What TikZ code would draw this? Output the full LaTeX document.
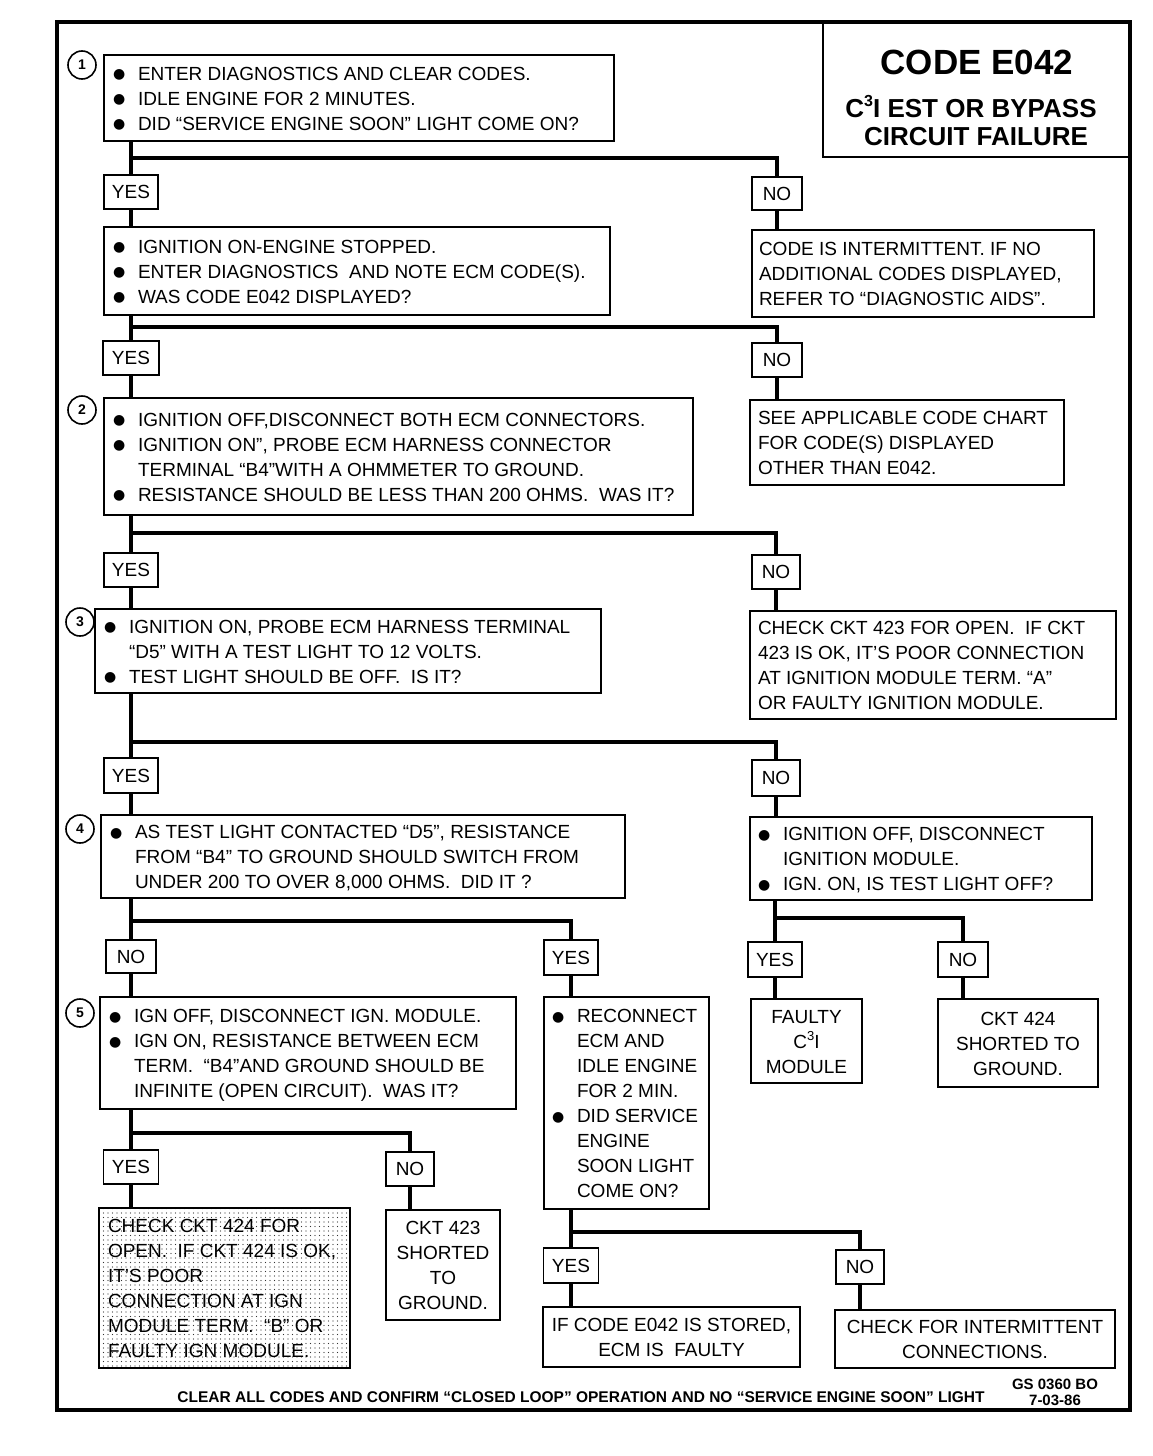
\documentclass[tikz,border=0pt]{standalone}
\usepackage{fontspec}
\setmainfont{Liberation Sans}
\newfontfamily\dejavu{DejaVu Sans}
\usetikzlibrary{patterns.meta}

\newcommand\bl{\makebox[25pt][l]{\raisebox{1.5pt}{\dejavu\fontsize{14}{14}\selectfont ●}}}
\newcommand\ind{\hspace*{25pt}}
\newcommand\cthree[1]{C\raisebox{0.42em}{\fontsize{#1}{#1}\selectfont 3}I}
% opts, name, x, y, W, H, xsep, content
\newcommand\bxnode[8]{\node[box,minimum width=#5pt,minimum height=#6pt,inner xsep=#7pt,#1] (#2) at (#3,#4) {\makebox[\dimexpr #5pt-#7pt-#7pt\relax][l]{\raisebox{-2pt}[\height][\depth]{\begin{tabular}{@{}l@{}}#8\end{tabular}}}};}
% opts, name, x, y, W, H, content
\newcommand\cxnode[7]{\node[box,minimum width=#5pt,minimum height=#6pt,inner xsep=2pt,#1] (#2) at (#3,#4) {\raisebox{-2pt}[\height][\depth]{\begin{tabular}{@{}c@{}}#7\end{tabular}}};}

\begin{document}
\begin{tikzpicture}[x=1pt,y=-1pt,
  every node/.style={font=\fontsize{19}{25}\selectfont},
  box/.style={draw,line width=1.8pt,inner ysep=0pt},
  lab/.style={draw,line width=1.8pt,inner sep=0pt,text height=13.6pt,text depth=0pt},
  conn/.style={line width=4.5pt},
  num/.style={circle,draw,line width=1.6pt,minimum size=28pt,inner sep=0pt,font=\fontsize{14}{14}\selectfont\bfseries},
  ttl/.style={font=\fontsize{#1}{#1}\selectfont\bfseries,inner sep=0pt,text depth=0pt},
  shade/.style={pattern={Dots[distance=4.5pt,radius=0.6pt]},pattern color=black!80}
]
\fill[white] (0,0) rectangle (1152,1456);
\useasboundingbox (0,0) rectangle (1152,1456);

% frame and title
\draw[line width=4.5pt] (57,22) rectangle (1130,1410);
\draw[line width=2.5pt] (823,22) rectangle (1130,157);
\node[ttl=35,text height=25pt] (t1) at (977,62) {CODE E042};
\node[ttl=26,text height=18.6pt] (t2) at (971,108) {\cthree{16} EST OR BYPASS};
\node[ttl=26,text height=18.6pt] (t3) at (976,136) {CIRCUIT FAILURE};

% step 1
\node[num] (n1) at (82,65) {1};
\bxnode{}{s1}{359}{98}{510}{86}{9}{\bl ENTER DIAGNOSTICS AND CLEAR CODES.\\
\bl IDLE ENGINE FOR 2 MINUTES.\\
\bl DID “SERVICE ENGINE SOON” LIGHT COME ON?}
\node[lab,minimum width=54pt,minimum height=34pt] (yes1) at (131,192) {YES};
\node[lab,minimum width=50pt,minimum height=33pt] (no1) at (777,193.5) {NO};
\bxnode{}{int1}{923}{273.5}{342}{87}{7}{CODE IS INTERMITTENT. IF NO\\
ADDITIONAL CODES DISPLAYED,\\
REFER TO “DIAGNOSTIC AIDS”.}

\bxnode{}{s2}{357}{271}{506}{88}{9}{\bl IGNITION ON-ENGINE STOPPED.\\
\bl ENTER DIAGNOSTICS\ \ AND NOTE ECM CODE(S).\\
\bl WAS CODE E042 DISPLAYED?}
\node[lab,minimum width=56pt,minimum height=34pt] (yes2) at (131,358) {YES};
\node[lab,minimum width=50pt,minimum height=34pt] (no2) at (777,360) {NO};
\bxnode{}{see}{907}{442.5}{314}{85}{8}{SEE APPLICABLE CODE CHART\\
FOR CODE(S) DISPLAYED\\
OTHER THAN E042.}

% step 2
\node[num] (n2) at (82,410) {2};
\bxnode{}{s3}{398.5}{456.5}{589}{117}{9}{\bl IGNITION OFF,DISCONNECT BOTH ECM CONNECTORS.\\
\bl IGNITION ON”, PROBE ECM HARNESS CONNECTOR\\
\ind TERMINAL “B4”WITH A OHMMETER TO GROUND.\\
\bl RESISTANCE SHOULD BE LESS THAN 200 OHMS.\ \ WAS IT?}
\node[lab,minimum width=54pt,minimum height=34pt] (yes3) at (131,570) {YES};
\node[lab,minimum width=48pt,minimum height=34pt] (no3) at (776,572) {NO};
\bxnode{}{chk423}{933}{665}{366}{108}{8}{CHECK CKT 423 FOR OPEN.\ \ IF CKT\\
423 IS OK, IT’S POOR CONNECTION\\
AT IGNITION MODULE TERM. “A”\\
OR FAULTY IGNITION MODULE.}

% step 3
\node[num] (n3) at (80,622) {3};
\bxnode{}{s4}{348}{651}{506}{84}{9}{\bl IGNITION ON, PROBE ECM HARNESS TERMINAL\\
\ind “D5” WITH A TEST LIGHT TO 12 VOLTS.\\
\bl TEST LIGHT SHOULD BE OFF.\ \ IS IT?}
\node[lab,minimum width=54pt,minimum height=35pt] (yes4) at (131,775.5) {YES};
\node[lab,minimum width=48pt,minimum height=36pt] (no4) at (776,778) {NO};

% step 4
\node[num] (n4) at (80,829) {4};
\bxnode{}{s5}{363}{856.5}{524}{83}{9}{\bl AS TEST LIGHT CONTACTED “D5”, RESISTANCE\\
\ind FROM “B4” TO GROUND SHOULD SWITCH FROM\\
\ind UNDER 200 TO OVER 8,000 OHMS.\ \ DID IT ?}
\bxnode{}{ign}{921}{858.5}{342}{83}{8}{\bl IGNITION OFF, DISCONNECT\\
\ind IGNITION MODULE.\\
\bl IGN. ON, IS TEST LIGHT OFF?}
\node[lab,minimum width=50pt,minimum height=33pt] (no5) at (131,956.5) {NO};
\node[lab,minimum width=54pt,minimum height=35pt] (yes5) at (571,957.5) {YES};
\node[lab,minimum width=54pt,minimum height=35pt] (yes6) at (775,959.5) {YES};
\node[lab,minimum width=50pt,minimum height=35pt] (no6) at (963,959.5) {NO};
\cxnode{}{fc3i}{806.5}{1041}{111}{84}{FAULTY\\ \cthree{13}\\ MODULE}
\cxnode{}{ckt424}{1018}{1043}{160}{88}{CKT 424\\ SHORTED TO\\ GROUND.}

% step 5
\node[num] (n5) at (80,1013) {5};
\bxnode{}{s6}{308}{1053}{416}{112}{9}{\bl IGN OFF, DISCONNECT IGN. MODULE.\\
\bl IGN ON, RESISTANCE BETWEEN ECM\\
\ind TERM.\ \ “B4”AND GROUND SHOULD BE\\
\ind INFINITE (OPEN CIRCUIT).\ \ WAS IT?}
\bxnode{}{recon}{626.5}{1103}{165}{212}{8}{\bl RECONNECT\\
\ind ECM AND\\
\ind IDLE ENGINE\\
\ind FOR 2 MIN.\\
\bl DID SERVICE\\
\ind ENGINE\\
\ind SOON LIGHT\\
\ind COME ON?}
\node[lab,minimum width=55pt,minimum height=34pt] (yes7) at (131,1167) {YES};
\node[lab,minimum width=48pt,minimum height=34pt] (no7) at (410,1169) {NO};
\bxnode{shade}{shaded}{224.5}{1288}{251}{160}{9}{CHECK CKT 424 FOR\\
OPEN.\ \ IF CKT 424 IS OK,\\
IT’S POOR\\
CONNECTION AT IGN\\
MODULE TERM.\ \ “B” OR\\
FAULTY IGN MODULE.}
\cxnode{}{ckt423s}{443}{1265}{114}{110}{CKT 423\\ SHORTED\\ TO\\ GROUND.}
\node[lab,minimum width=55pt,minimum height=35pt] (yes8) at (571,1265.5) {YES};
\node[lab,minimum width=48pt,minimum height=34pt] (no8) at (860,1267) {NO};
\cxnode{}{e042}{671.5}{1337}{257}{60}{IF CODE E042 IS STORED,\\ ECM IS\ \ FAULTY}
\cxnode{}{int2}{975}{1339}{280}{58}{CHECK FOR INTERMITTENT\\ CONNECTIONS.}

% footer
\node[ttl=15.5,text height=11.1pt] (foot) at (581,1397) {CLEAR ALL CODES AND CONFIRM “CLOSED LOOP” OPERATION AND NO “SERVICE ENGINE SOON” LIGHT};
\node[ttl=15,text height=10.7pt] (gs) at (1055,1384) {GS 0360 BO};
\node[ttl=15,text height=10.7pt] (date) at (1055,1400) {7-03-86};

% junctions
\coordinate (j1) at (yes1.north |- 0,158);
\coordinate (j2) at (yes2.north |- 0,327);
\coordinate (j3) at (yes3.north |- 0,533);
\coordinate (j4) at (yes4.north |- 0,742);
\coordinate (j5) at (no5.north |- 0,921);
\coordinate (j6) at (yes6.north |- 0,918);
\coordinate (j7) at (yes7.north |- 0,1133);
\coordinate (j8) at (yes8.north |- 0,1232);

% connectors
\draw[conn] (s1.south -| yes1.north) -- (yes1.north);
\draw[conn] (j1) -| (no1.north);
\draw[conn] (yes1.south) -- (yes1.south |- s2.north);
\draw[conn] (no1.south) -- (no1.south |- int1.north);

\draw[conn] (s2.south -| yes2.north) -- (yes2.north);
\draw[conn] (j2) -| (no2.north);
\draw[conn] (yes2.south) -- (yes2.south |- s3.north);
\draw[conn] (no2.south) -- (no2.south |- see.north);

\draw[conn] (s3.south -| yes3.north) -- (yes3.north);
\draw[conn] (j3) -| (no3.north);
\draw[conn] (yes3.south) -- (yes3.south |- s4.north);
\draw[conn] (no3.south) -- (no3.south |- chk423.north);

\draw[conn] (s4.south -| yes4.north) -- (yes4.north);
\draw[conn] (j4) -| (no4.north);
\draw[conn] (yes4.south) -- (yes4.south |- s5.north);
\draw[conn] (no4.south) -- (no4.south |- ign.north);

\draw[conn] (s5.south -| no5.north) -- (no5.north);
\draw[conn] (j5) -| (yes5.north);
\draw[conn] (no5.south) -- (no5.south |- s6.north);
\draw[conn] (yes5.south) -- (yes5.south |- recon.north);

\draw[conn] (ign.south -| yes6.north) -- (yes6.north);
\draw[conn] (j6) -| (no6.north);
\draw[conn] (yes6.south) -- (yes6.south |- fc3i.north);
\draw[conn] (no6.south) -- (no6.south |- ckt424.north);

\draw[conn] (s6.south -| yes7.north) -- (yes7.north);
\draw[conn] (j7) -| (no7.north);
\draw[conn] (yes7.south) -- (yes7.south |- shaded.north);
\draw[conn] (no7.south) -- (no7.south |- ckt423s.north);

\draw[conn] (recon.south -| yes8.north) -- (yes8.north);
\draw[conn] (j8) -| (no8.north);
\draw[conn] (yes8.south) -- (yes8.south |- e042.north);
\draw[conn] (no8.south) -- (no8.south |- int2.north);
\end{tikzpicture}
\end{document}
